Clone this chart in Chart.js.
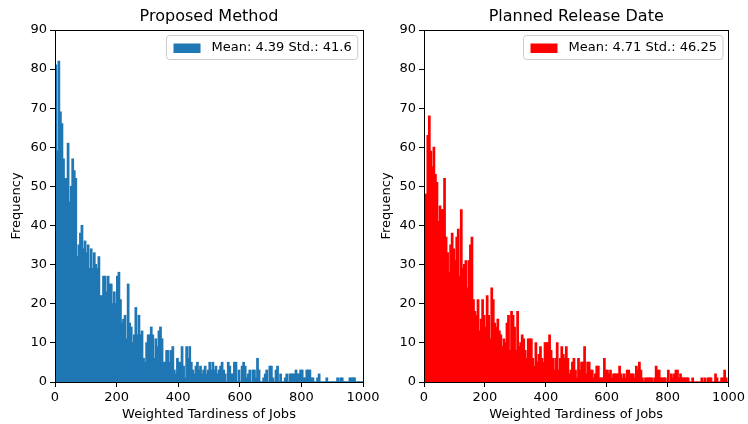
<!DOCTYPE html>
<html>
<head>
<meta charset="utf-8">
<script src="https://cdn.jsdelivr.net/npm/chart.js@4.4.0/dist/chart.umd.min.js"></script>
<style>
  html, body { margin: 0; padding: 0; background: #fff; }
  body { width: 748px; height: 424px; position: relative; overflow: hidden; }
  .panel { position: absolute; top: 0; height: 424px; }
  #leftPanel { left: 0; width: 400px; }
  #rightPanel { left: 370px; width: 378px; }
</style>
</head>
<body>
<div class="panel" id="leftPanel"><canvas id="proposedChart" width="400" height="424"></canvas></div>
<div class="panel" id="rightPanel"><canvas id="plannedChart" width="378" height="424"></canvas></div>
<script>
// histogram bins: 200 bins of width 5 over 0..1000
const BIN_WIDTH = 5;

const proposedCounts = [
    81, 59, 82, 69, 66, 57, 52, 52, 61, 46, 50, 57, 54, 52, 32, 35, 38, 40, 34, 36,
    33, 35, 29, 34, 29, 33, 30, 29, 32, 22, 22, 27, 27, 23, 27, 25, 25, 20, 23, 20,
    27, 28, 21, 15, 16, 17, 11, 25, 15, 14, 10, 12, 19, 12, 17, 12, 13, 6, 5, 10,
    12, 12, 14, 12, 6, 11, 9, 13, 14, 11, 5, 5, 8, 8, 5, 8, 9, 3, 2, 6,
    5, 5, 9, 4, 1, 9, 6, 9, 5, 3, 2, 4, 5, 3, 4, 2, 3, 4, 2, 3,
    5, 3, 5, 3, 4, 2, 3, 4, 5, 3, 2, 0, 5, 4, 2, 2, 5, 5, 0, 3,
    0, 4, 5, 4, 1, 2, 3, 0, 3, 3, 1, 6, 3, 0, 0, 1, 2, 3, 0, 4,
    4, 1, 0, 3, 4, 0, 2, 0, 0, 1, 2, 0, 2, 2, 2, 2, 3, 2, 2, 3,
    3, 1, 1, 3, 3, 3, 1, 1, 0, 0, 1, 2, 0, 0, 0, 0, 1, 0, 0, 0,
    0, 0, 0, 1, 0, 1, 1, 0, 0, 0, 0, 1, 1, 1, 1, 0, 0, 0, 0, 0,
];

const plannedCounts = [
    48, 48, 63, 68, 59, 55, 60, 53, 51, 41, 45, 44, 44, 52, 37, 33, 28, 35, 38, 34,
    31, 37, 39, 27, 44, 29, 30, 31, 24, 31, 35, 37, 21, 18, 17, 21, 13, 16, 21, 17,
    14, 22, 17, 11, 24, 21, 15, 14, 16, 13, 12, 9, 11, 10, 15, 17, 8, 18, 17, 14,
    8, 18, 9, 10, 12, 11, 8, 6, 11, 11, 11, 6, 4, 10, 5, 7, 9, 6, 5, 10,
    10, 10, 12, 8, 6, 3, 6, 10, 3, 6, 9, 7, 6, 9, 6, 2, 3, 5, 6, 3,
    1, 6, 3, 5, 5, 9, 2, 5, 5, 3, 3, 1, 2, 4, 4, 1, 1, 1, 6, 3,
    3, 2, 3, 1, 2, 2, 2, 2, 4, 2, 1, 2, 1, 3, 3, 2, 2, 2, 1, 4,
    3, 5, 3, 1, 0, 1, 1, 1, 1, 1, 0, 1, 4, 3, 3, 1, 1, 1, 1, 0,
    3, 0, 2, 1, 2, 3, 3, 1, 2, 1, 1, 1, 1, 1, 0, 0, 1, 0, 0, 0,
    0, 0, 1, 0, 1, 0, 1, 1, 1, 0, 0, 2, 1, 0, 0, 1, 1, 3, 1, 0,
];

const xTicks = [0, 200, 400, 600, 800, 1000];
const yTicks = [0, 10, 20, 30, 40, 50, 60, 70, 80, 90];
const xLabel = 'Weighted Tardiness of Jobs';
const yLabel = 'Frequency';

Chart.defaults.font.family = '"DejaVu Sans", sans-serif';
Chart.defaults.font.size = 13;
Chart.defaults.color = '#000';

// top/right spines, axes title and the legend box, matplotlib style
const framePlugin = {
    id: 'frame',
    afterDatasetsDraw(chart, args, opts) {
        const { ctx, chartArea: a } = chart;
        ctx.save();
        ctx.strokeStyle = '#000';
        ctx.lineWidth = 1;
        ctx.strokeRect(Math.round(a.left) + 0.5, Math.round(a.top) + 0.5,
            Math.round(a.right) - Math.round(a.left), Math.round(a.bottom) - Math.round(a.top));

        ctx.font = '16px "DejaVu Sans"';
        ctx.fillStyle = '#000';
        ctx.textAlign = 'center';
        ctx.textBaseline = 'middle';
        ctx.fillText(opts.title, (a.left + a.right) / 2, 17);

        ctx.font = '13px "DejaVu Sans"';
        const tw = ctx.measureText(opts.legend).width;
        const w = 7 + 27 + 11 + tw + 6;
        const h = 24;
        const x = Math.round(a.right - 6 - w) + 0.5;
        const y = Math.round(a.top + 5) + 0.5;
        const r = 3;
        ctx.beginPath();
        ctx.moveTo(x + r, y);
        ctx.lineTo(x + w - r, y);
        ctx.arcTo(x + w, y, x + w, y + r, r);
        ctx.lineTo(x + w, y + h - r);
        ctx.arcTo(x + w, y + h, x + w - r, y + h, r);
        ctx.lineTo(x + r, y + h);
        ctx.arcTo(x, y + h, x, y + h - r, r);
        ctx.lineTo(x, y + r);
        ctx.arcTo(x, y, x + r, y, r);
        ctx.closePath();
        ctx.fillStyle = 'rgba(255,255,255,0.8)';
        ctx.fill();
        ctx.strokeStyle = '#cccccc';
        ctx.stroke();

        ctx.fillStyle = opts.color;
        ctx.fillRect(x + 7, y + 8, 27, 9.5);
        ctx.fillStyle = '#000';
        ctx.textAlign = 'left';
        ctx.fillText(opts.legend, x + 45, y + h / 2 + 0.5);
        ctx.restore();
    },
};

function makeHistogram(canvasId, counts, color, title, legendText, yWidth, padRight) {
    const points = counts.map((c, i) => ({ x: i * BIN_WIDTH + BIN_WIDTH / 2, y: c }));

    new Chart(document.getElementById(canvasId), {
        type: 'bar',
        data: {
            datasets: [
                {
                    label: legendText,
                    data: points,
                    backgroundColor: color,
                    borderWidth: 0,
                    barPercentage: 1,
                    categoryPercentage: 1,
                    inflateAmount: 0.6,
                },
            ],
        },
        options: {
            responsive: false,
            animation: false,
            events: [],
            layout: {
                padding: { top: 30, right: padRight, left: 0, bottom: 0 },
            },
            scales: {
                x: {
                    type: 'linear',
                    min: 0,
                    max: 1000,
                    offset: false,
                    afterBuildTicks: (scale) => {
                        scale.ticks = xTicks.map((v) => ({ value: v }));
                    },
                    afterFit: (scale) => {
                        scale.height = 42;
                    },
                    ticks: { padding: 3, maxRotation: 0, autoSkip: false, callback: (v) => String(v) },
                    grid: { display: true, offset: false, drawOnChartArea: false, drawTicks: true, tickLength: 5, color: '#000' },
                    border: { display: true, color: '#000' },
                    title: { display: true, text: xLabel, padding: { top: 0, bottom: 2 } },
                },
                y: {
                    min: 0,
                    max: 90,
                    afterBuildTicks: (scale) => {
                        scale.ticks = yTicks.map((v) => ({ value: v }));
                    },
                    afterFit: (scale) => {
                        scale.width = yWidth;
                    },
                    ticks: { padding: 3, autoSkip: false, callback: (v) => String(v) },
                    grid: { display: true, offset: false, drawOnChartArea: false, drawTicks: true, tickLength: 5, color: '#000' },
                    border: { display: true, color: '#000' },
                    title: { display: true, text: yLabel, padding: { top: 9, bottom: 0 } },
                },
            },
            plugins: {
                legend: { display: false },
                tooltip: { enabled: false },
                frame: { title, legend: legendText, color },
            },
        },
        plugins: [framePlugin],
    });
}

makeHistogram('proposedChart', proposedCounts, '#1f77b4', 'Proposed Method', 'Mean: 4.39 Std.: 41.6', 55, 37);
makeHistogram('plannedChart', plannedCounts, '#ff0000', 'Planned Release Date', 'Mean: 4.71 Std.: 46.25', 54, 16);
</script>
</body>
</html>
